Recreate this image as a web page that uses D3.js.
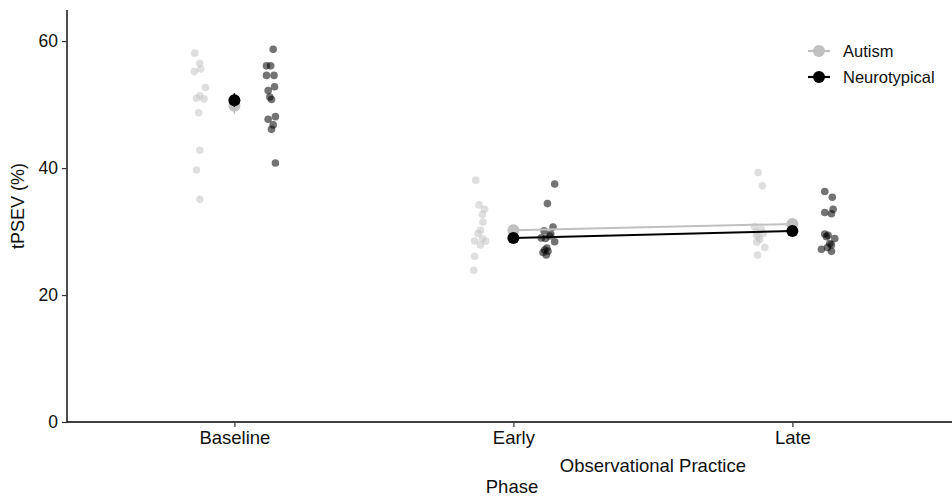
<!DOCTYPE html>
<html>
<head>
<meta charset="utf-8">
<script src="https://cdn.jsdelivr.net/npm/d3@7"></script>
<style>
  body { margin: 0; background: #fff; }
  text { font-family: "Liberation Sans", Arial, sans-serif; }
</style>
</head>
<body>
<div id="chart"></div>
<script>
// categories and groups
var phases = ["Baseline", "Early", "Late"];
var groups = ["Autism", "Neurotypical"];

// individual tPSEV values, one array per group and phase
var autismBaseline = [58.1, 56.5, 55.2, 55.6, 52.7, 51.0, 51.4, 50.9, 48.7, 42.8, 39.7, 35.1];
var ntBaseline = [58.7, 56.1, 56.1, 54.6, 54.6, 52.8, 52.2, 51.2, 50.8, 47.7, 48.1, 46.8, 46.1, 40.8];
var autismEarly = [38.1, 34.2, 33.5, 32.7, 31.5, 30.2, 29.7, 28.9, 28.5, 28.5, 27.9, 26.1, 23.9];
var ntEarly = [37.5, 34.4, 30.7, 30.1, 29.6, 28.9, 28.4, 27.1, 26.9, 26.7, 26.3, 29.3, 27.4, 29.0];
var autismLate = [39.3, 37.2, 30.8, 29.4, 28.7, 27.5, 26.3, 30.4, 30.0, 29.7, 29.1, 28.3];
var ntLate = [36.3, 35.4, 33.5, 33.0, 32.8, 29.6, 29.4, 29.2, 28.1, 27.9, 27.2, 26.9, 28.9, 27.5];

// horizontal jitter of each point, in category units from the phase centre
var jitAutismBaseline = [-0.142, -0.124, -0.144, -0.121, -0.104, -0.136, -0.124, -0.109, -0.128, -0.124, -0.136, -0.124];
var jitNtBaseline = [0.139, 0.115, 0.130, 0.115, 0.142, 0.144, 0.121, 0.127, 0.133, 0.121, 0.147, 0.139, 0.133, 0.147];
var jitAutismEarly = [-0.135, -0.123, -0.103, -0.111, -0.109, -0.118, -0.127, -0.111, -0.139, -0.099, -0.118, -0.139, -0.142];
var jitNtEarly = [0.148, 0.122, 0.142, 0.110, 0.134, 0.115, 0.148, 0.112, 0.124, 0.106, 0.118, 0.130, 0.120, 0.100];
var jitAutismLate = [-0.123, -0.108, -0.136, -0.129, -0.117, -0.099, -0.125, -0.112, -0.130, -0.105, -0.120, -0.128];
var jitNtLate = [0.116, 0.143, 0.146, 0.116, 0.140, 0.116, 0.128, 0.122, 0.134, 0.140, 0.104, 0.140, 0.152, 0.126];

// group means and standard errors per phase
var autismMeans = [49.8, 30.2, 31.2];
var ntMeans = [50.7, 29.0, 30.1];
var autismSE = [1.3, 0.8, 0.8];
var ntSE = [1.1, 0.8, 0.8];

var yTicks = [0, 20, 40, 60];

var width = 952, height = 496;
var margin = { top: 10, right: 0, bottom: 74, left: 67 };

var svg = d3.select("#chart").append("svg")
    .attr("width", width)
    .attr("height", height);

// discrete x positions 1..3, expanded 0.6 each side like ggplot
var x = d3.scaleLinear()
    .domain([0.4, 3.6])
    .range([margin.left, margin.left + 279 * 3.2]);

var y = d3.scaleLinear()
    .domain([0, 64.9])
    .range([height - margin.bottom, margin.top]);

var colors = { Autism: "#c0c0c0", Neurotypical: "#000000" };

// build point table
var raw = [
    ["Autism", 0, autismBaseline, jitAutismBaseline],
    ["Neurotypical", 0, ntBaseline, jitNtBaseline],
    ["Autism", 1, autismEarly, jitAutismEarly],
    ["Neurotypical", 1, ntEarly, jitNtEarly],
    ["Autism", 2, autismLate, jitAutismLate],
    ["Neurotypical", 2, ntLate, jitNtLate]
];
var points = [];
raw.forEach(function (r) {
    r[2].forEach(function (v, i) {
        points.push({ group: r[0], phase: r[1], value: v, jit: r[3][i] });
    });
});

// axes
var plotBottom = height - margin.bottom;
svg.append("line")
    .attr("x1", margin.left).attr("x2", margin.left)
    .attr("y1", margin.top).attr("y2", plotBottom)
    .attr("stroke", "#000").attr("stroke-width", 1.4);
svg.append("line")
    .attr("x1", margin.left).attr("x2", width)
    .attr("y1", plotBottom).attr("y2", plotBottom)
    .attr("stroke", "#000").attr("stroke-width", 1.4);

var yAxis = svg.append("g")
    .attr("transform", "translate(" + margin.left + ",0)")
    .call(d3.axisLeft(y).tickValues(yTicks).tickSize(5).tickPadding(4));
yAxis.select(".domain").remove();
yAxis.selectAll(".tick line").attr("stroke", "#333").attr("stroke-width", 1.2);
yAxis.selectAll("text")
    .attr("font-size", 17.5).attr("fill", "#111")
    .style("font-family", "'Liberation Sans', Arial, sans-serif");

var xAxis = svg.append("g")
    .attr("transform", "translate(0," + plotBottom + ")")
    .call(d3.axisBottom(x).tickValues([1, 2, 3]).tickFormat(function (d) { return phases[d - 1]; })
        .tickSize(5).tickPadding(4));
xAxis.select(".domain").remove();
xAxis.selectAll(".tick line").attr("stroke", "#333").attr("stroke-width", 1.2);
xAxis.selectAll("text")
    .attr("font-size", 18.5).attr("fill", "#111")
    .style("font-family", "'Liberation Sans', Arial, sans-serif");

// axis titles
svg.append("text")
    .attr("x", (x(2) + x(3)) / 2)
    .attr("y", 472)
    .attr("text-anchor", "middle")
    .attr("font-size", 18.5)
    .attr("fill", "#111")
    .text("Observational Practice");

svg.append("text")
    .attr("x", 512)
    .attr("y", 493)
    .attr("text-anchor", "middle")
    .attr("font-size", 18.5)
    .attr("fill", "#111")
    .text("Phase");

svg.append("text")
    .attr("transform", "rotate(-90)")
    .attr("x", -206)
    .attr("y", 24)
    .attr("text-anchor", "middle")
    .attr("font-size", 18)
    .attr("fill", "#111")
    .text("tPSEV (%)");

// jittered individual points
svg.append("g")
    .selectAll("circle")
    .data(points)
    .enter()
    .append("circle")
    .attr("cx", d => x(d.phase + 1 + d.jit))
    .attr("cy", d => y(d.value))
    .attr("r", 3.8)
    .attr("fill", d => d.group === "Autism" ? "#c4c4c4" : "#000")
    .attr("opacity", 0.55);

// mean lines between Early and Late
var meanSets = [
    { group: "Autism", means: autismMeans, se: autismSE },
    { group: "Neurotypical", means: ntMeans, se: ntSE }
];
var line = d3.line()
    .x(d => x(d.phase + 1))
    .y(d => y(d.value));

meanSets.forEach(function (s) {
    var pts = s.means.map((m, i) => ({ phase: i, value: m, se: s.se[i] }));
    svg.append("path")
        .datum(pts.slice(1))
        .attr("d", line)
        .attr("fill", "none")
        .attr("stroke", colors[s.group])
        .attr("stroke-width", 2);

    var g = svg.append("g");
    g.selectAll("line")
        .data(pts)
        .enter()
        .append("line")
        .attr("x1", d => x(d.phase + 1)).attr("x2", d => x(d.phase + 1))
        .attr("y1", d => y(d.value - d.se)).attr("y2", d => y(d.value + d.se))
        .attr("stroke", colors[s.group])
        .attr("stroke-width", 1.5);
    g.selectAll("circle")
        .data(pts)
        .enter()
        .append("circle")
        .attr("cx", d => x(d.phase + 1))
        .attr("cy", d => y(d.value))
        .attr("r", 6)
        .attr("fill", colors[s.group]);
});

// legend
var legend = svg.append("g").attr("transform", "translate(808,51)");
groups.forEach(function (gname, i) {
    var row = legend.append("g").attr("transform", "translate(0," + (i * 26) + ")");
    row.append("line")
        .attr("x1", 0).attr("x2", 22)
        .attr("stroke", colors[gname]).attr("stroke-width", 2.2);
    row.append("circle")
        .attr("cx", 11).attr("r", 6)
        .attr("fill", colors[gname]);
    row.append("text")
        .attr("x", 35).attr("y", 6)
        .attr("font-size", 16.5)
        .attr("fill", "#111")
        .text(gname);
});
</script>
</body>
</html>
